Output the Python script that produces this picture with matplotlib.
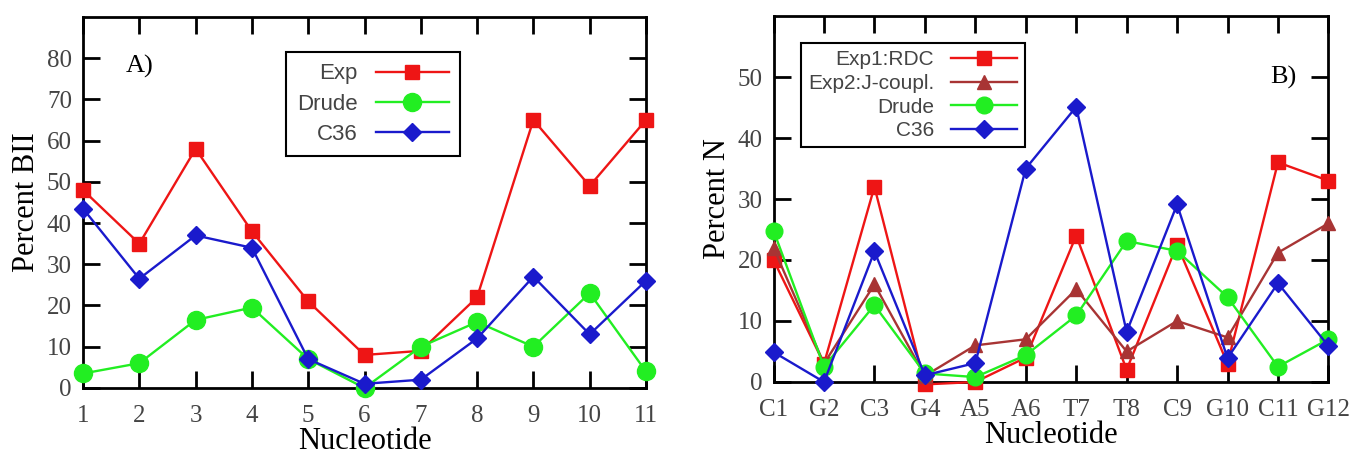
# Percent BII (A) e Percent N (B) por nucleotideo
import matplotlib
matplotlib.use('Agg')
import matplotlib.pyplot as plt

# --- dados do painel A ---
posA = [1, 2, 3, 4, 5, 6, 7, 8, 9, 10, 11]
expA = [48, 35, 58, 38, 21, 8, 9, 22, 65, 49, 65]
drudeA = [3.5, 6, 16.5, 19.5, 7, 0, 10, 16, 10, 23, 4]
c36A = [43.5, 26.5, 37, 34, 7, 1, 2, 12, 27, 13, 26]

# --- dados do painel B ---
nucB = ['C1', 'G2', 'C3', 'G4', 'A5', 'A6', 'T7', 'T8', 'C9', 'G10', 'C11', 'G12']
exp1B = [20, 3, 32, -0.4, 0, 4, 24, 2, 22.5, 3, 36, 33]
exp2B = [22, 3, 16, 1, 6, 7, 15.2, 5, 10, 7.3, 21.2, 26]
drudeB = [24.8, 2.5, 12.6, 1.4, 0.8, 4.4, 10.9, 23.1, 21.5, 13.9, 2.5, 7]
c36B = [4.9, 0, 21.4, 1.1, 3.1, 35, 45.1, 8.2, 29.1, 3.9, 16.2, 5.9]

vermelho = '#ee1515'
marrom = '#a83434'
verde = '#22ee22'
azul = '#1a1acc'

serif = 'Liberation Serif'
sans = 'Liberation Sans'

fig = plt.figure(figsize=(13.5, 4.58), dpi=100)
axA = fig.add_axes([0.0615, 0.153, 0.417, 0.81])
axB = fig.add_axes([0.573, 0.166, 0.411, 0.799])


def estilo(ax):
    for s in ax.spines.values():
        s.set_linewidth(2)
    ax.tick_params(direction='in', top=True, right=True, length=12, width=2,
                   labelsize=18, labelcolor='#444444')
    for lab in ax.get_xticklabels() + ax.get_yticklabels():
        lab.set_family(serif)


# painel A
axA.plot(posA, expA, color=vermelho, lw=1.7, marker='s', ms=10, label='Exp', clip_on=False, zorder=3)
axA.plot(posA, drudeA, color=verde, lw=1.7, marker='o', ms=13, label='Drude', clip_on=False, zorder=3)
axA.plot(posA, c36A, color=azul, lw=1.7, marker='D', ms=9, label='C36', clip_on=False, zorder=3)
axA.set_xlim(1, 11)
axA.set_ylim(0, 90)
axA.set_xticks(posA)
axA.set_yticks(range(0, 90, 10))
axA.tick_params(axis='x', pad=12)
axA.tick_params(axis='y', pad=8)
estilo(axA)
axA.set_xlabel('Nucleotide', fontsize=22, family=serif, labelpad=0)
axA.set_ylabel('Percent BII', fontsize=22, family=serif, labelpad=4)
axA.text(1.75, 78, 'A)', fontsize=19, family=serif, va='center')
legA = axA.legend(loc='upper left', bbox_to_anchor=(0.212, 0.886), bbox_transform=fig.transFigure,
                  markerfirst=False, fancybox=False, edgecolor='black', framealpha=1,
                  prop={'family': sans, 'size': 16}, labelspacing=0.42, handlelength=3.3,
                  borderpad=0.5, borderaxespad=0)
legA.get_frame().set_linewidth(1.5)
for t in legA.get_texts():
    t.set_color('#444444')

# painel B
xB = range(len(nucB))
axB.plot(xB, exp1B, color=vermelho, lw=1.7, marker='s', ms=10, label='Exp1:RDC', clip_on=False, zorder=3)
axB.plot(xB, exp2B, color=marrom, lw=1.7, marker='^', ms=10, label='Exp2:J-coupl.', clip_on=False, zorder=3)
axB.plot(xB, drudeB, color=verde, lw=1.7, marker='o', ms=12, label='Drude', clip_on=False, zorder=3)
axB.plot(xB, c36B, color=azul, lw=1.7, marker='D', ms=9, label='C36', clip_on=False, zorder=3)
axB.set_xlim(0, len(nucB) - 1)
axB.set_ylim(0, 60)
axB.set_xticks(list(xB))
axB.set_xticklabels(nucB)
axB.set_yticks(range(0, 60, 10))
axB.tick_params(axis='x', pad=12)
axB.tick_params(axis='y', pad=8)
estilo(axB)
axB.set_xlabel('Nucleotide', fontsize=22, family=serif, labelpad=0)
axB.set_ylabel('Percent N', fontsize=22, family=serif, labelpad=4)
axB.text(10.1, 50, 'B)', fontsize=19, family=serif, va='center', ha='center')
legB = axB.legend(loc='upper left', bbox_to_anchor=(0.593, 0.906), bbox_transform=fig.transFigure,
                  markerfirst=False, fancybox=False, edgecolor='black', framealpha=1,
                  prop={'family': sans, 'size': 15}, labelspacing=0.22, handlelength=3.2,
                  borderpad=0.35, borderaxespad=0)
legB.get_frame().set_linewidth(1.5)
for t in legB.get_texts():
    t.set_color('#444444')

fig.savefig('out.png', dpi=100)
